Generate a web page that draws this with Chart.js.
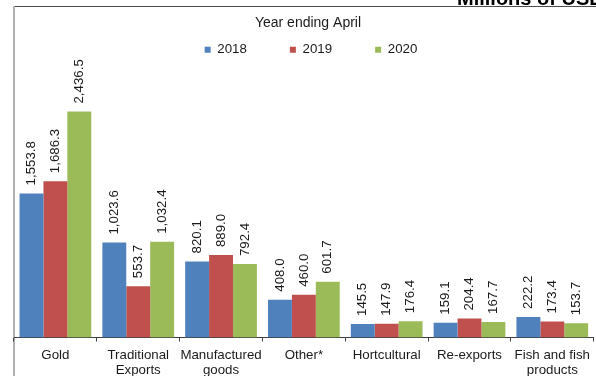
<!DOCTYPE html>
<html>
<head>
<meta charset="utf-8">
<script src="https://cdn.jsdelivr.net/npm/chart.js@4"></script>
<style>
  html, body { margin: 0; padding: 0; background: #fff; }
  canvas { display: block; }
</style>
</head>
<body>
<canvas id="chart" width="596" height="376"></canvas>
<script>
// Exports by product group, millions of USD, year ending April
const categories = [
  "Gold",
  ["Traditional", "Exports"],
  ["Manufactured", "goods"],
  "Other*",
  "Hortcultural",
  "Re-exports",
  ["Fish and fish", "products"],
];
const years = ["2018", "2019", "2020"];
const values2018 = [1553.8, 1023.6, 820.1, 408.0, 145.5, 159.1, 222.2];
const values2019 = [1686.3, 553.7, 889.0, 460.0, 147.9, 204.4, 173.4];
const values2020 = [2436.5, 1032.4, 792.4, 601.7, 176.4, 167.7, 153.7];
const colors = ["#4F81BD", "#C0504D", "#9BBB59"];

const FONT = "'Liberation Sans', Arial, sans-serif";
const TEXT = "#1a1a1a";
const SIZE = 13.3;

// white background, frame lines, legend caption and the units caption
const framePlugin = {
  id: "frame",
  beforeDraw(chart) {
    const ctx = chart.ctx;
    ctx.save();
    ctx.fillStyle = "#fff";
    ctx.fillRect(0, 0, chart.width, chart.height);
    ctx.fillStyle = "#4d4d4d";
    ctx.fillRect(13, 6, chart.width - 13, 1);
    ctx.fillStyle = "#b0b0b0";
    ctx.fillRect(13, 6, 2, chart.height - 6);
    ctx.fillStyle = "#000";
    ctx.font = "bold 20px " + FONT;
    ctx.textAlign = "left";
    ctx.textBaseline = "alphabetic";
    ctx.fillText("Millions of USD", 457, 5);
    ctx.fillStyle = TEXT;
    ctx.font = "14px " + FONT;
    ctx.textAlign = "center";
    ctx.textBaseline = "middle";
    ctx.fillText("Year ending April", 308, 23.5);
    ctx.restore();
  },
  afterLayout(chart) {
    // nudge the legend row right so it sits under the caption
    chart.legend.left += 6;
    chart.legend.right += 6;
  },
};

// vertical value labels above each bar
const valueLabels = {
  id: "valueLabels",
  afterDatasetsDraw(chart) {
    const ctx = chart.ctx;
    ctx.save();
    ctx.font = SIZE + "px " + FONT;
    ctx.fillStyle = TEXT;
    ctx.textAlign = "left";
    ctx.textBaseline = "middle";
    chart.data.datasets.forEach((ds, i) => {
      chart.getDatasetMeta(i).data.forEach((bar, j) => {
        const txt = ds.data[j].toLocaleString("en-US", {
          minimumFractionDigits: 1,
          maximumFractionDigits: 1,
        });
        ctx.save();
        ctx.translate(bar.x, bar.y - 8);
        ctx.rotate(-Math.PI / 2);
        ctx.fillText(txt, 0, 0);
        ctx.restore();
      });
    });
    ctx.restore();
  },
};

new Chart(document.getElementById("chart"), {
  type: "bar",
  data: {
    labels: categories,
    datasets: [values2018, values2019, values2020].map((vals, i) => ({
      label: years[i],
      data: vals,
      backgroundColor: colors[i],
      borderWidth: 0,
      categoryPercentage: 0.866,
      barPercentage: 1,
    })),
  },
  options: {
    responsive: false,
    animation: false,
    layout: { padding: { top: 0, left: 14, right: 0, bottom: 0 } },
    scales: {
      x: {
        grid: {
          display: true,
          drawOnChartArea: false,
          offset: true,
          tickLength: 4,
          color: "#404040",
        },
        border: { display: true, color: "#404040", width: 1 },
        ticks: {
          color: TEXT,
          padding: 6,
          maxRotation: 0,
          autoSkip: false,
          font: { family: FONT, size: SIZE, lineHeight: 1.13 },
        },
        afterFit(scale) {
          scale.height = 38.5;
        },
      },
      y: {
        display: false,
        min: 0,
        max: 2925,
      },
    },
    plugins: {
      tooltip: { enabled: false },
      title: { display: false },
      legend: {
        labels: {
          boxWidth: 6,
          boxHeight: 6,
          padding: 43,
          color: TEXT,
          font: { family: FONT, size: SIZE },
        },
      },
    },
  },
  plugins: [framePlugin, valueLabels],
});
</script>
</body>
</html>
